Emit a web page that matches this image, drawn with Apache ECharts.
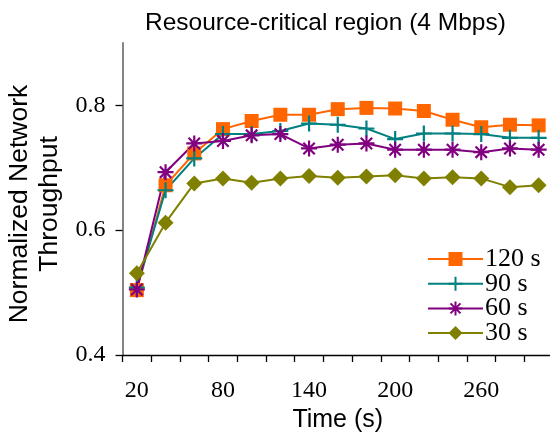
<!DOCTYPE html>
<html>
<head>
<meta charset="utf-8">
<script src="https://cdn.jsdelivr.net/npm/echarts@6/dist/echarts.min.js"></script>
<style>html,body{margin:0;padding:0;background:#fff;}#c{width:550px;height:435px;}</style>
</head>
<body>
<div id="c"></div>
<script>
const times = [20,40,60,80,100,120,140,160,180,200,220,240,260,280,300];
const s120 = [0.504,0.672,0.723,0.762,0.775,0.785,0.785,0.794,0.796,0.795,0.791,0.777,0.765,0.769,0.768];
const s90  = [0.508,0.664,0.715,0.754,0.754,0.759,0.771,0.769,0.763,0.746,0.755,0.755,0.754,0.748,0.748];
const s60  = [0.505,0.693,0.739,0.743,0.752,0.754,0.731,0.737,0.739,0.729,0.729,0.729,0.725,0.731,0.729];
const s30  = [0.531,0.612,0.675,0.683,0.676,0.683,0.687,0.684,0.686,0.688,0.683,0.685,0.683,0.669,0.672];
const seriesNames = ['120 s','90 s','60 s','30 s'];
const xTickValues = [10,30,50,70,90,110,130,150,170,190,210,230,250,270,290];
const xLabelValues = [20,80,140,200,260];
const yTickValues = [0.4,0.6,0.8];

const pair = arr => times.map((t,i)=>[t,arr[i]]);
const plusPath = 'path://M8,0L8,16M0,8L16,8';
const starPath = 'path://M8,0L8,16M0,8L16,8M2.3,2.3L13.7,13.7M13.7,2.3L2.3,13.7';

const chart = echarts.init(document.getElementById('c'), null, {renderer:'canvas'});
function mk(name, data, color, symbol, size, stroke) {
  return {
    name, type:'line', data: pair(data), symbol, symbolSize: size,
    showSymbol: true,
    lineStyle:{color, width:2},
    itemStyle: stroke ? {color, borderColor:color, borderWidth:2.2} : {color, borderWidth:0},
    emphasis:{disabled:true}, z: 2
  };
}
chart.setOption({
  animation:false,
  backgroundColor:'#fff',
  title:{
    text:'Resource-critical region (4 Mbps)', left:145, top:11, padding:0,
    textStyle:{fontFamily:'Liberation Sans, Arial, sans-serif', fontSize:24.5, fontWeight:'normal', color:'#000'}
  },
  grid:{left:122.5, top:43, bottom:80, right:-3, containLabel:false, outerBoundsMode:'none'},
  legend:{
    orient:'vertical', left:427, top:246, padding:0,
    itemWidth:55, itemHeight:17.5, itemGap:-1.3,
    data: seriesNames,
    textStyle:{fontFamily:'Liberation Serif, Times New Roman, serif', fontSize:26, color:'#000', padding:[0,0,0,-3]}
  },
  xAxis:{
    type:'value', min:10, max:310, interval:20,
    name:'Time (s)', nameLocation:'middle', nameGap:43,
    nameTextStyle:{fontFamily:'Liberation Sans, Arial, sans-serif', fontSize:25, color:'#000'},
    axisLine:{lineStyle:{color:'#000', width:1.3}},
    axisTick:{inside:false, length:7, customValues:xTickValues, lineStyle:{color:'#000', width:1.3}},
    axisLabel:{customValues:xLabelValues, margin:24, fontFamily:'Liberation Serif, Times New Roman, serif', fontSize:24, color:'#000'},
    splitLine:{show:false}
  },
  yAxis:{
    type:'value', min:0.4, max:0.9, interval:0.1,
    name:'Normalized Network\nThroughput', nameLocation:'middle', nameGap:57,
    nameTextStyle:{fontFamily:'Liberation Sans, Arial, sans-serif', fontSize:26.5, color:'#000', lineHeight:30, padding:[0,10,0,0]},
    axisLine:{lineStyle:{color:'#777', width:1.8}},
    axisTick:{inside:false, length:7, customValues:yTickValues, lineStyle:{color:'#000', width:1.3}},
    axisLabel:{customValues:yTickValues, margin:17, formatter: v=>v.toFixed(1), fontFamily:'Liberation Serif, Times New Roman, serif', fontSize:24, color:'#000'},
    splitLine:{show:false}
  },
  series:[
    mk('120 s', s120, '#FF6600', 'rect', 14, false),
    mk('90 s', s90, '#008080', plusPath, 16, true),
    mk('60 s', s60, '#800080', starPath, 16, true),
    mk('30 s', s30, '#808000', 'diamond', 16, false)
  ]
});
</script>
</body>
</html>
